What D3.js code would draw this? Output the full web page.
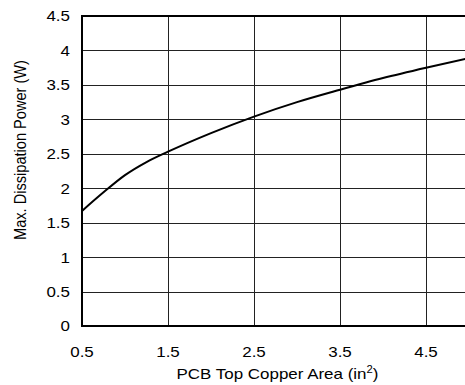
<!DOCTYPE html>
<html>
<head>
<meta charset="utf-8">
<script src="https://cdn.jsdelivr.net/npm/d3@7"></script>
<style>
  html, body { margin: 0; padding: 0; background: #fff; }
  svg { display: block; font-family: "Liberation Sans", Arial, sans-serif; }
</style>
</head>
<body>
<div id="chart"></div>
<script>
(function () {
  'use strict';

  /* ── Data ── */
  var areaIn2 = [0.5, 0.75, 1.0, 1.25, 1.5, 2.0, 2.5, 3.0, 3.5, 4.0, 4.5, 5.0];
  var powerW = [1.67, 1.94, 2.19, 2.38, 2.53, 2.80, 3.04, 3.25, 3.43, 3.60, 3.75, 3.89];
  var xTicks = [0.5, 1.5, 2.5, 3.5, 4.5];
  var yTicks = [0, 0.5, 1, 1.5, 2, 2.5, 3, 3.5, 4, 4.5];

  var W = 465, H = 385;
  var L = 82, R = 469, T = 16, B = 326;
  var SX = 1.13; /* the original text looks a little wide */

  var svg = d3.select('#chart').append('svg')
    .attr('width', W).attr('height', H);

  var x = d3.scaleLinear().domain([0.5, 5]).range([L, R]);
  var y = d3.scaleLinear().domain([0, 4.5]).range([B, T]);

  /* Grid */
  var grid = svg.append('g').attr('stroke', '#222').attr('stroke-width', 1);
  xTicks.slice(1).forEach(function (t) {
    var px = Math.round(x(t)) + 0.5;
    grid.append('line').attr('x1', px).attr('x2', px).attr('y1', T).attr('y2', B);
  });
  yTicks.slice(1, -1).forEach(function (t) {
    var py = Math.round(y(t)) + 0.5;
    grid.append('line').attr('x1', L).attr('x2', W).attr('y1', py).attr('y2', py);
  });

  /* Frame: top, left, bottom */
  svg.append('path')
    .attr('d', 'M' + W + ',' + y(4.5) + 'H' + L + 'V' + y(0) + 'H' + W)
    .attr('fill', 'none')
    .attr('stroke', '#000')
    .attr('stroke-width', 2);

  /* Curve */
  var line = d3.line()
    .x(function (d, i) { return x(areaIn2[i]); })
    .y(function (d) { return y(d); })
    .curve(d3.curveMonotoneX);

  svg.append('path')
    .datum(powerW)
    .attr('d', line)
    .attr('fill', 'none')
    .attr('stroke', '#000')
    .attr('stroke-width', 2);

  /* Tick labels */
  svg.append('g').selectAll('text')
    .data(yTicks).join('text')
    .attr('transform', function (d) { return 'translate(70,' + y(d) + ') scale(' + SX + ',1)'; })
    .attr('dy', '0.36em')
    .attr('text-anchor', 'end')
    .attr('font-size', 15)
    .text(function (d) { return d; });

  svg.append('g').selectAll('text')
    .data(xTicks).join('text')
    .attr('transform', function (d) { return 'translate(' + x(d) + ',356.5) scale(' + SX + ',1)'; })
    .attr('text-anchor', 'middle')
    .attr('font-size', 15)
    .text(function (d) { return d; });

  /* Axis titles */
  var xt = svg.append('text')
    .attr('transform', 'translate(277.5,378.5) scale(' + SX + ',1)')
    .attr('text-anchor', 'middle')
    .attr('font-size', 15);
  xt.append('tspan').text('PCB Top Copper Area (in');
  xt.append('tspan').attr('font-size', 10).attr('dy', -6).text('2');
  xt.append('tspan').attr('dy', 6).text(')');

  svg.append('text')
    .attr('transform', 'translate(26,150) scale(' + SX + ',1) rotate(-90)')
    .attr('text-anchor', 'middle')
    .attr('font-size', 14.6)
    .text('Max. Dissipation Power (W)');
})();
</script>
</body>
</html>
